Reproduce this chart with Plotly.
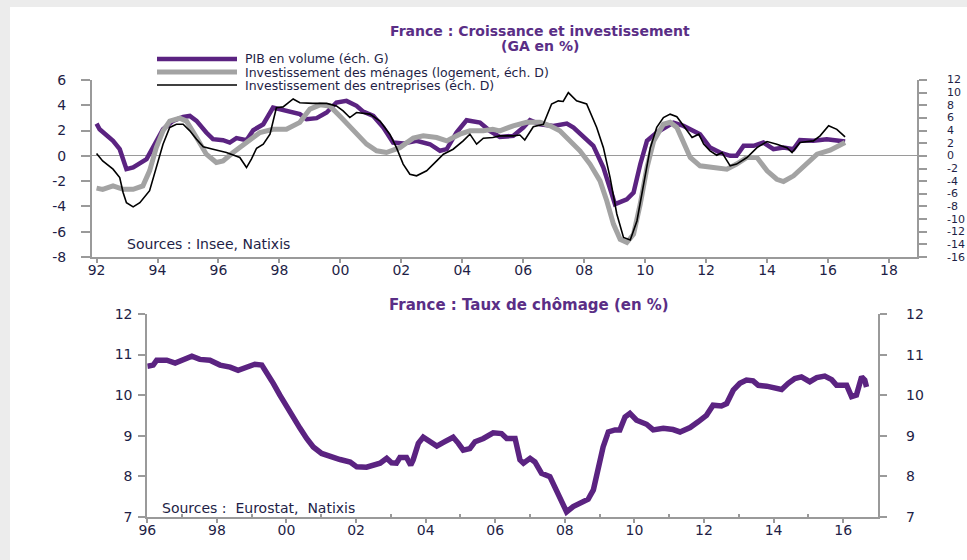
import plotly.graph_objects as go

# ---------------- Top chart data ----------------
gdp_t = [1992.0, 1992.1, 1992.54, 1992.76, 1992.98, 1993.2, 1993.64, 1993.96, 1994.18, 1994.51,
         1994.84, 1995.06, 1995.28, 1995.6, 1995.82, 1996.15, 1996.37, 1996.59, 1996.92, 1997.14,
         1997.47, 1997.79, 1998.01, 1998.34, 1998.67, 1998.89, 1999.22, 1999.55, 1999.87, 2000.2,
         2000.53, 2000.75, 2001.08, 2001.41, 2001.73, 2002.06, 2002.5, 2002.94, 2003.27, 2003.49,
         2003.81, 2004.14, 2004.58, 2004.9, 2005.23, 2005.67, 2006.0, 2006.22, 2006.55, 2006.99,
         2007.43, 2007.65, 2007.97, 2008.3, 2008.63, 2008.85, 2009.01, 2009.4, 2009.62, 2009.84,
         2010.06, 2010.38, 2010.71, 2010.93, 2011.26, 2011.59, 2011.8, 2012.13, 2012.46, 2012.79,
         2013.0, 2013.23, 2013.56, 2013.88, 2014.21, 2014.54, 2014.87, 2015.08, 2015.52, 2015.96,
         2016.29, 2016.56]
gdp_v = [2.55, 2.1, 1.19, 0.53, -1.05, -0.92, -0.26, 1.19, 2.1, 2.77,
         3.08, 3.16, 2.77, 1.85, 1.32, 1.24, 1.05, 1.4, 1.24, 2.03,
         2.5, 3.82, 3.69, 3.5, 3.3, 2.9, 2.98, 3.43, 4.22, 4.35,
         3.96, 3.5, 3.16, 2.24, 1.05, 0.97, 1.19, 0.92, 0.4, 0.53,
         1.85, 2.82, 2.63, 1.98, 1.5, 1.58, 2.24, 2.82, 2.5, 2.37,
         2.55, 2.24, 1.58, 0.79, -0.92, -2.5, -3.82, -3.43, -2.9, -0.66,
         1.19, 1.85, 2.37, 2.63, 2.37, 1.98, 1.71, 0.66, 0.26, 0.0,
         0.0, 0.79, 0.79, 1.05, 0.53, 0.66, 0.53, 1.24, 1.19, 1.32,
         1.24, 1.13]

housing_t = [1992.0, 1992.2, 1992.54, 1992.87, 1993.2, 1993.52, 1993.74, 1993.96, 1994.18, 1994.4,
             1994.73, 1994.95, 1995.28, 1995.6, 1995.93, 1996.15, 1996.48, 1996.92, 1997.36, 1997.79,
             1998.23, 1998.67, 1999.0, 1999.33, 1999.65, 1999.98, 2000.42, 2000.86, 2001.19, 2001.51,
             2001.95, 2002.39, 2002.72, 2003.16, 2003.49, 2003.92, 2004.25, 2004.69, 2005.0, 2005.23,
             2005.67, 2006.11, 2006.55, 2006.88, 2007.2, 2007.53, 2007.86, 2008.19, 2008.52, 2008.74,
             2008.96, 2009.18, 2009.4, 2009.62, 2009.84, 2010.06, 2010.28, 2010.6, 2010.82, 2011.04,
             2011.26, 2011.48, 2011.8, 2012.25, 2012.68, 2013.0, 2013.34, 2013.67, 2014.0, 2014.32,
             2014.54, 2014.87, 2015.2, 2015.64, 2016.07, 2016.56]
housing_v = [-5.1, -5.3, -4.75, -5.3, -5.3, -4.75, -2.37, 1.3, 3.96, 5.5,
             5.96, 5.5, 2.9, 0.26, -1.05, -0.8, 0.53, 2.1, 3.7, 4.2,
             4.2, 5.3, 7.4, 8.07, 7.9, 6.3, 3.96, 1.85, 0.8, 0.53,
             1.3, 2.8, 3.16, 2.9, 2.37, 3.43, 3.96, 3.96, 4.2, 3.96,
             4.75, 5.3, 5.3, 4.75, 3.96, 2.37, 0.8, -1.3, -3.96, -7.1,
             -10.8, -13.2, -13.7, -12.4, -7.6, -1.85, 2.37, 5.0, 5.3, 4.5,
             2.1, -0.26, -1.58, -1.85, -2.1, -1.3, -0.26, -0.26, -2.37, -3.7,
             -4.06, -3.16, -1.58, 0.26, 0.9, 2.1]

business_t = [1992.0, 1992.2, 1992.54, 1992.76, 1992.87, 1992.98, 1993.2, 1993.42, 1993.74, 1993.96,
              1994.18, 1994.4, 1994.62, 1994.84, 1995.06, 1995.28, 1995.5, 1995.82, 1996.26, 1996.7,
              1996.92, 1997.08, 1997.25, 1997.47, 1997.69, 1997.9, 1998.12, 1998.45, 1998.67, 1999.1,
              1999.55, 1999.87, 2000.09, 2000.31, 2000.53, 2000.97, 2001.3, 2001.62, 2001.84, 2002.06,
              2002.28, 2002.5, 2002.83, 2003.16, 2003.38, 2003.7, 2004.03, 2004.25, 2004.47, 2004.69,
              2005.0, 2005.23, 2005.67, 2005.89, 2006.05, 2006.33, 2006.66, 2006.93, 2007.15, 2007.31,
              2007.48, 2007.75, 2008.08, 2008.41, 2008.63, 2008.85, 2009.07, 2009.29, 2009.51, 2009.73,
              2009.95, 2010.17, 2010.38, 2010.6, 2010.82, 2011.04, 2011.26, 2011.54, 2011.76, 2011.92,
              2012.13, 2012.35, 2012.52, 2012.79, 2013.0, 2013.34, 2013.67, 2014.0, 2014.32, 2014.65,
              2014.82, 2015.08, 2015.52, 2015.74, 2016.02, 2016.29, 2016.56]
business_v = [0.37, -0.8, -2.1, -3.43, -5.8, -7.4, -8.07, -7.4, -5.5, -1.85,
              1.85, 4.5, 5.0, 5.0, 3.96, 2.63, 1.42, 1.05, 0.53, -0.26,
              -1.85, -0.53, 1.2, 1.85, 3.43, 7.6, 7.75, 9.0, 8.4, 8.3,
              8.3, 7.9, 7.1, 6.06, 6.85, 6.6, 5.5, 3.43, 1.3, -1.3,
              -2.9, -3.16, -2.37, -0.8, 0.26, 1.05, 2.37, 3.43, 1.85, 2.8,
              2.9, 3.16, 3.16, 3.3, 2.5, 4.6, 5.0, 8.2, 8.7, 8.6,
              10.0, 8.7, 8.2, 4.5, 1.3, -3.43, -9.2, -12.9, -13.3, -10.3,
              -4.5, 1.3, 4.5, 6.06, 6.6, 6.2, 4.75, 2.9, 3.43, 1.85,
              0.8, 0.1, 0.53, -1.58, -1.3, -0.26, 1.3, 2.26, 1.85, 1.3,
              0.53, 2.1, 2.37, 3.16, 4.75, 4.2, 3.0]

# ---------------- Bottom chart data ----------------
unemp_t = [1996.0, 1996.17, 1996.27, 1996.56, 1996.8, 1997.03, 1997.28, 1997.51, 1997.8, 1998.09,
           1998.38, 1998.61, 1998.86, 1999.09, 1999.29, 1999.43, 1999.62, 1999.81, 2000.0, 2000.2,
           2000.39, 2000.58, 2000.77, 2001.01, 2001.25, 2001.54, 2001.83, 2002.02, 2002.3, 2002.49,
           2002.69, 2002.88, 2003.02, 2003.16, 2003.26, 2003.45, 2003.57, 2003.64, 2003.79, 2003.93,
           2004.12, 2004.32, 2004.55, 2004.79, 2004.94, 2005.08, 2005.27, 2005.42, 2005.66, 2005.94,
           2006.18, 2006.33, 2006.57, 2006.71, 2006.81, 2007.0, 2007.14, 2007.33, 2007.57, 2007.76,
           2007.91, 2008.05, 2008.24, 2008.43, 2008.67, 2008.82, 2008.96, 2009.1, 2009.25, 2009.44,
           2009.58, 2009.73, 2009.87, 2010.06, 2010.35, 2010.54, 2010.83, 2011.11, 2011.31, 2011.6,
           2011.83, 2012.07, 2012.26, 2012.5, 2012.65, 2012.84, 2013.03, 2013.22, 2013.41, 2013.56,
           2013.8, 2014.04, 2014.23, 2014.42, 2014.61, 2014.8, 2015.04, 2015.24, 2015.47, 2015.67,
           2015.81, 2016.1, 2016.24, 2016.38, 2016.53, 2016.62, 2016.67]
unemp_v = [10.71, 10.74, 10.86, 10.86, 10.79, 10.88, 10.96, 10.88, 10.86, 10.74,
           10.69, 10.61, 10.69, 10.76, 10.74, 10.57, 10.29, 10.0, 9.71, 9.42,
           9.18, 8.93, 8.72, 8.56, 8.48, 8.41, 8.35, 8.23, 8.22, 8.27,
           8.32, 8.44, 8.33, 8.32, 8.46, 8.46, 8.27, 8.4, 8.81, 8.96,
           8.85, 8.74, 8.85, 8.96, 8.81, 8.64, 8.68, 8.85, 8.93, 9.07,
           9.05, 8.93, 8.93, 8.4, 8.32, 8.44, 8.35, 8.07, 7.99, 7.66,
           7.33, 7.12, 7.25, 7.34, 7.43, 7.66, 8.15, 8.72, 9.09, 9.14,
           9.14, 9.46, 9.55, 9.38, 9.28, 9.14, 9.18, 9.15, 9.09, 9.2,
           9.34, 9.5, 9.75, 9.73, 9.79, 10.12, 10.29, 10.37, 10.35, 10.24,
           10.22, 10.19, 10.14, 10.29, 10.41, 10.45, 10.33, 10.43, 10.47, 10.38,
           10.24, 10.24, 9.96, 10.0, 10.45, 10.37, 10.2]

# ---------------- Labels ----------------
top_title = "France : Croissance et investissement"
top_subtitle = "(GA en %)"
series_names = ["PIB en volume (éch. G)",
                "Investissement des ménages (logement, éch. D)",
                "Investissement des entreprises (éch. D)"]
top_source = "Sources : Insee, Natixis"
bottom_title = "France : Taux de chômage (en %)"
bottom_source = "Sources :  Eurostat,  Natixis"

top_x_ticks = list(range(1992, 2019, 2))
top_x_labels = [f"{y % 100:02d}" for y in top_x_ticks]
top_left_ticks = list(range(-8, 7, 2))
top_right_ticks = list(range(-16, 13, 2))
bottom_x_ticks = list(range(1996, 2017, 2))
bottom_x_labels = [f"{y % 100:02d}" for y in bottom_x_ticks]
bottom_y_ticks = list(range(7, 13))

# ---------------- Styles ----------------
W, H = 967, 560
PURPLE = "#5b2381"
GREY = "#a3a3a3"
AXIS = "#9a9a9a"
TXT = "#1e1e46"
TITLE = "#5a2e86"
FONT = "DejaVu Sans"

def px(x):
    return x / W

def py(y):
    return 1 - y / H

fig = go.Figure()

fig.add_trace(go.Scatter(x=housing_t, y=housing_v, mode="lines", name=series_names[1],
                         line=dict(color=GREY, width=5), xaxis="x", yaxis="y2"))
fig.add_trace(go.Scatter(x=business_t, y=business_v, mode="lines", name=series_names[2],
                         line=dict(color="#000000", width=1.6), xaxis="x", yaxis="y2"))
fig.add_trace(go.Scatter(x=gdp_t, y=gdp_v, mode="lines", name=series_names[0],
                         line=dict(color=PURPLE, width=4.5), xaxis="x", yaxis="y"))
fig.add_trace(go.Scatter(x=unemp_t, y=unemp_v, mode="lines", name="Taux de chômage",
                         line=dict(color=PURPLE, width=5.5), xaxis="x2", yaxis="y3"))
# invisible helper so the bottom right-hand axis gets drawn
fig.add_trace(go.Scatter(x=unemp_t, y=unemp_v, mode="lines", showlegend=False, hoverinfo="skip",
                         line=dict(color="rgba(0,0,0,0)", width=0), xaxis="x2", yaxis="y4"))

tickfont = dict(family=FONT, size=14, color=TXT)
common_axis = dict(showgrid=False, showline=True, linecolor=AXIS, linewidth=2,
                   ticks="outside", tickcolor=AXIS, tickwidth=1.5, tickfont=tickfont,
                   zeroline=False, automargin=False)

top_dom_x = [px(92), px(917)]
top_dom_y = [py(257), py(80)]
bot_dom_x = [px(147.3), px(878)]
bot_dom_y = [py(516.7), py(314)]

fig.update_layout(
    width=W, height=H,
    margin=dict(l=0, r=0, t=0, b=0, autoexpand=False),
    paper_bgcolor="#ececec",
    plot_bgcolor="rgba(0,0,0,0)",
    showlegend=False,
    xaxis=dict(common_axis, domain=top_dom_x, anchor="y", range=[1991.85, 2018.92],
               tickvals=top_x_ticks, ticktext=top_x_labels, ticklen=4, ticklabelstandoff=-5),
    yaxis=dict(common_axis, domain=top_dom_y, anchor="x", range=[-8, 6],
               tickvals=top_left_ticks, ticktext=[str(v) for v in top_left_ticks],
               ticklen=9, ticklabelstandoff=12,
               zeroline=True, zerolinecolor=AXIS, zerolinewidth=1),
    yaxis2=dict(common_axis, overlaying="y", side="right", anchor="x", range=[-16, 12],
                tickvals=top_right_ticks, ticklen=8, showticklabels=False),
    xaxis2=dict(common_axis, domain=bot_dom_x, anchor="y3", range=[1996, 2017],
                tickvals=bottom_x_ticks, ticktext=bottom_x_labels, ticklen=4,
                ticklabelstandoff=-5,
                minor=dict(tickvals=list(range(1997, 2017, 2)), ticks="inside", ticklen=3,
                           tickcolor=AXIS, tickwidth=1.5)),
    yaxis3=dict(common_axis, domain=bot_dom_y, anchor="x2", range=[7, 12],
                tickvals=bottom_y_ticks, ticklen=7, ticklabelstandoff=3),
    yaxis4=dict(common_axis, overlaying="y3", side="right", anchor="x2", range=[7, 12],
                tickvals=bottom_y_ticks, ticklen=7, showticklabels=False),
)

# right-hand tick labels, placed on the right axes' own scales
for v in top_right_ticks:
    fig.add_annotation(x=px(945), y=v, xref="paper", yref="y2", text=str(v),
                       xanchor="left", yanchor="middle", showarrow=False,
                       font=dict(family=FONT, size=11, color=TXT))
for v in bottom_y_ticks:
    fig.add_annotation(x=px(904), y=v, xref="paper", yref="y4", text=str(v),
                       xanchor="left", yanchor="middle", showarrow=False,
                       font=tickfont)

# white card background (grey frame on the left and top edges)
fig.add_shape(type="rect", xref="paper", yref="paper", x0=px(10), x1=1.0, y0=0, y1=py(7),
              fillcolor="white", line=dict(width=0), layer="below")

# titles and texts
def label(x, y, text, size=14, color=TXT, xanchor="center"):
    fig.add_annotation(x=px(x), y=py(y), xref="paper", yref="paper", text=text,
                       xanchor=xanchor, yanchor="middle", showarrow=False,
                       font=dict(family=FONT, size=size, color=color))

label(540, 31, f"<b>{top_title}</b>", size=14, color=TITLE)
label(540, 46, f"<b>{top_subtitle}</b>", size=14, color=TITLE)
label(529, 305, f"<b>{bottom_title}</b>", size=15, color=TITLE)

# manual legend
legend_rows = [(59, PURPLE, 4.5), (72, GREY, 5), (85, "#000000", 1.6)]
for (yy, col, wd), name in zip(legend_rows, series_names):
    fig.add_shape(type="line", xref="paper", yref="paper", x0=px(157), x1=px(237),
                  y0=py(yy), y1=py(yy), line=dict(color=col, width=wd))
    label(243, yy, name, size=12.5, xanchor="left")

# sources
label(125, 244, top_source, size=14, xanchor="left")
label(160, 508, bottom_source, size=14, xanchor="left")

fig.write_html("out.html")
